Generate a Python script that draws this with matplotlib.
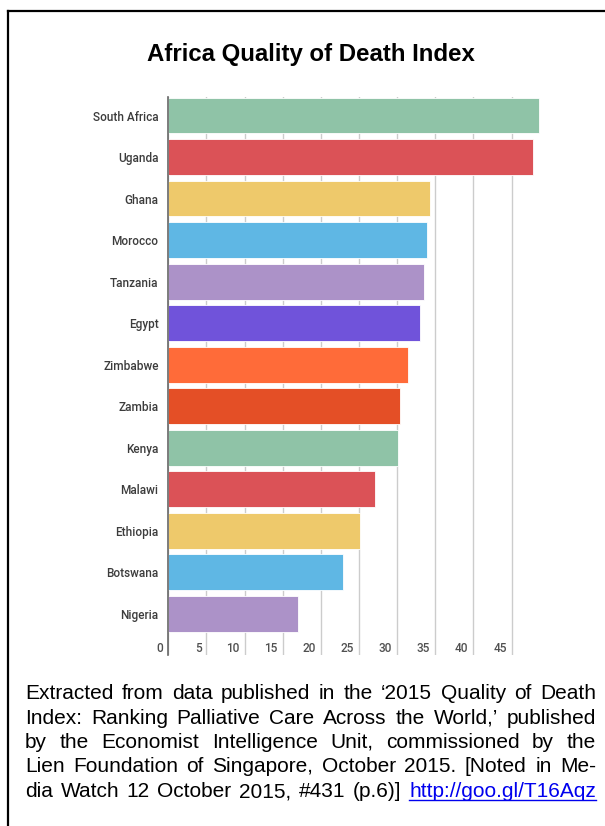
import matplotlib
matplotlib.use("Agg")
import matplotlib.pyplot as plt
from matplotlib.lines import Line2D
from matplotlib.transforms import ScaledTranslation

# Data
countries = [
    "South Africa", "Uganda", "Ghana", "Morocco", "Tanzania", "Egypt",
    "Zimbabwe", "Zambia", "Kenya", "Malawi", "Ethiopia", "Botswana", "Nigeria",
]
scores = [48.6, 47.8, 34.3, 33.9, 33.5, 33.0, 31.4, 30.4, 30.1, 27.1, 25.1, 22.9, 17.0]
bar_colors = [
    "#8fc3a7", "#db5257", "#eec96b", "#5fb7e4", "#ac92c8", "#7053da",
    "#ff6b39", "#e44f26", "#8fc3a7", "#db5257", "#eec96b", "#5fb7e4", "#ac92c8",
]
tick_values = [0, 5, 10, 15, 20, 25, 30, 35, 40, 45]

title = "Africa Quality of Death Index"
caption_lines = [
    "Extracted from data published in the \u20182015 Quality of Death",
    "Index: Ranking Palliative Care Across the World,\u2019 published",
    "by the Economist Intelligence Unit, commissioned by the",
    "Lien Foundation of Singapore, October 2015. [Noted in Me-",
    "dia Watch 12 October 2015, #431 (p.6)] http://goo.gl/T16Aqz",
]
link = "http://goo.gl/T16Aqz"

W, H = 605, 826
plt.rcParams["font.family"] = ["Roboto", "DejaVu Sans"]

fig = plt.figure(figsize=(W / 100, H / 100), dpi=100)
fig.patch.set_facecolor("white")

# plot area in pixels: x 168..550, y 97..655
ax = fig.add_axes([168.3 / W, 1 - 655 / H, (549.8 - 168.3) / W, 558 / H])
ax.barh(range(len(countries)), scores, height=0.86, color=bar_colors,
        edgecolor="white", linewidth=0.6, zorder=2)
ax.set_xlim(0, 50)
ax.set_ylim(12.99, -0.446)

ax.set_yticks(range(len(countries)))
ax.set_yticklabels(countries, fontsize=8.5, fontweight="medium", color="#3c3c3c")
ax.tick_params(axis="y", length=0, pad=7)

ax.set_xticks(tick_values)
ax.set_xticklabels([str(v) for v in tick_values], fontsize=8.5, fontweight="medium",
                   color="#505050", ha="right")
ax.tick_params(axis="x", length=0, pad=-9.5)
shift = ScaledTranslation(-5 / 100, 0, fig.dpi_scale_trans)
for lab in ax.get_xticklabels():
    lab.set_transform(lab.get_transform() + shift)

ax.xaxis.grid(True, color="#cccccc", linewidth=1)
ax.set_axisbelow(True)
for side in ["top", "right", "bottom"]:
    ax.spines[side].set_visible(False)
ax.spines["left"].set_color("#666666")
ax.spines["left"].set_linewidth(1.2)
ax.spines["left"].set_zorder(3)

fig.text(311 / W, 1 - 54 / H, title, ha="center", va="center",
         fontsize=17.3, fontweight="bold", family="Liberation Sans")

# frame lines (top and left)
fig.add_artist(Line2D([8 / W, 1], [1 - 11 / H, 1 - 11 / H], color="black", lw=1.6))
fig.add_artist(Line2D([8 / W, 8 / W], [1 - 11 / H, 0], color="black", lw=1.6))

# justified caption
fig.canvas.draw()
renderer = fig.canvas.get_renderer()
x_left, x_right = 25, 596
y0, dy = 699, 24.5
for i, line in enumerate(caption_lines):
    words = line.split(" ")
    texts = []
    for w in words:
        col = "#0000ee" if w == link else "black"
        t = fig.text(0, 1 - (y0 + i * dy) / H, w, ha="left", va="baseline",
                     fontsize=15, family="Liberation Sans", color=col)
        texts.append(t)
    widths = [t.get_window_extent(renderer).width for t in texts]
    gap = (x_right - x_left - sum(widths)) / (len(words) - 1)
    x = x_left
    for t, wd in zip(texts, widths):
        t.set_x(x / W)
        if t.get_text() == link:
            yb = 1 - (y0 + i * dy + 2.5) / H
            fig.add_artist(Line2D([x / W, (x + wd) / W], [yb, yb],
                                  color="#0000ee", lw=1))
        x += wd + gap

fig.savefig("out.png", dpi=100)
